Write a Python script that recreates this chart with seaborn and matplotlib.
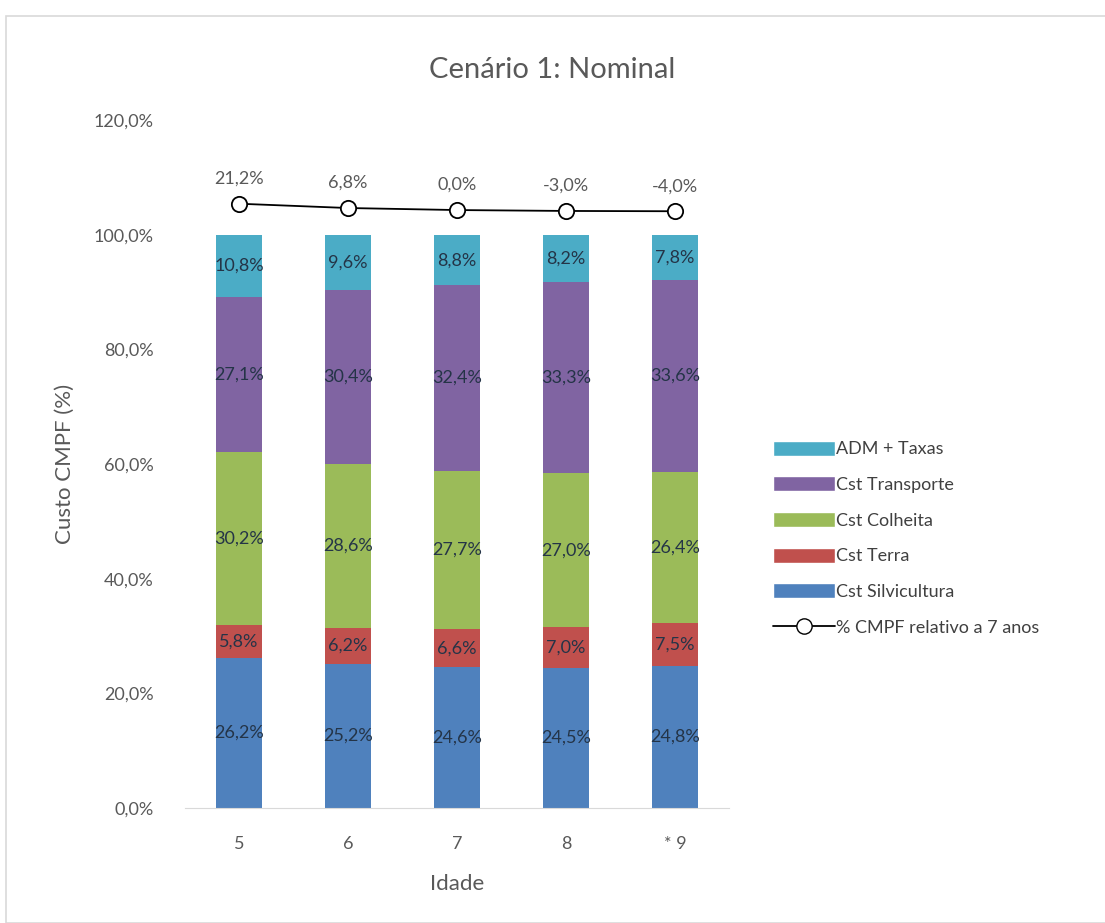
import numpy as np
import pandas as pd
import matplotlib
matplotlib.use("Agg")
import matplotlib.pyplot as plt
from matplotlib.patches import Patch, Rectangle
from matplotlib.lines import Line2D
import seaborn as sns

sns.set_style("white")
plt.rcParams['font.family'] = ['Lato', 'DejaVu Sans']

idade = ["5", "6", "7", "8", "* 9"]
silvicultura = [26.2, 25.2, 24.6, 24.5, 24.8]
terra = [5.8, 6.2, 6.6, 7.0, 7.5]
colheita = [30.2, 28.6, 27.7, 27.0, 26.4]
transporte = [27.1, 30.4, 32.4, 33.3, 33.6]
adm = [10.8, 9.6, 8.8, 8.2, 7.8]
relativo = [21.2, 6.8, 0.0, -3.0, -4.0]

series = [
    ("Cst Silvicultura", silvicultura, "#4f81bd"),
    ("Cst Terra", terra, "#c0504d"),
    ("Cst Colheita", colheita, "#9bbb59"),
    ("Cst Transporte", transporte, "#8064a2"),
    ("ADM + Taxas", adm, "#4bacc6"),
]

def fmt(v):
    return ("%.1f%%" % v).replace(".", ",")

fig = plt.figure(figsize=(11.05, 9.23), dpi=100)
ax = fig.add_axes([0.167, 0.1246, 0.493, 0.745])

# 100% stacked bars: draw cumulative totals from the top layer down
df = pd.DataFrame({name: vals for name, vals, _ in series})
share = df.div(df.sum(axis=1), axis=0) * 100
cum = share.cumsum(axis=1)
for name, vals, color in reversed(series):
    sns.barplot(x=idade, y=cum[name].values, color=color, width=0.42, ax=ax,
                saturation=1, linewidth=0)

txt_col = "#243447"
for i in range(len(idade)):
    bottom = 0
    for name, vals, color in series:
        h = share[name][i]
        ax.text(i, bottom + h / 2, fmt(vals[i]), ha="center", va="center",
                fontsize=13, color=txt_col)
        bottom += h

ax.set_ylim(0, 120)
ax.set_xlim(-0.5, 4.5)
ax.set_yticks(np.arange(0, 121, 20))
ax.set_yticklabels([fmt(v) for v in np.arange(0, 121, 20)], fontsize=13, color="#595959")
ax.tick_params(axis="x", labelsize=13, labelcolor="#595959", length=0, pad=20)
ax.tick_params(axis="y", length=0, pad=22)
ax.set_xlabel("Idade", fontsize=16, color="#595959", labelpad=16)
ax.set_ylabel("Custo CMPF (%)", fontsize=16, color="#595959", labelpad=14)
for s in ["top", "right", "left"]:
    ax.spines[s].set_visible(False)
ax.spines["bottom"].set_color("#d9d9d9")

# secondary hidden axis for the relative line
ax2 = ax.twinx()
sns.lineplot(x=np.arange(len(idade)), y=relativo, ax=ax2, color="black", lw=1.3,
             marker="o", markersize=11, markerfacecolor="white",
             markeredgecolor="black", markeredgewidth=1.3)
ax2.set_ylim(-2000, 300)
ax2.set_xlim(-0.5, 4.5)
ax2.axis("off")
for i, v in enumerate(relativo):
    ax2.text(i, v, fmt(v), ha="center", va="bottom", fontsize=13, color="#595959",
             transform=ax2.transData + matplotlib.transforms.ScaledTranslation(0, 0.17, fig.dpi_scale_trans))

fig.suptitle("Cenário 1: Nominal", fontsize=21, color="#595959", y=0.938, x=0.5)

handles = [Patch(facecolor=c, label=n) for n, _, c in reversed(series)]
handles.append(Line2D([0], [0], color="black", lw=1.3, marker="o", markersize=11,
                      markerfacecolor="white", markeredgecolor="black",
                      label="% CMPF relativo a 7 anos"))
fig.legend(handles=handles, loc="center left", bbox_to_anchor=(0.685, 0.417),
           frameon=False, fontsize=13, labelspacing=1.05, handlelength=3.4,
           handleheight=0.9, handletextpad=0.1, labelcolor="#404040")

fig.patches.append(Rectangle((0.005, 0.0), 1.0, 0.983, transform=fig.transFigure,
                             fill=False, edgecolor="#d9d9d9", lw=1.2))

fig.savefig("out.png", dpi=100)
